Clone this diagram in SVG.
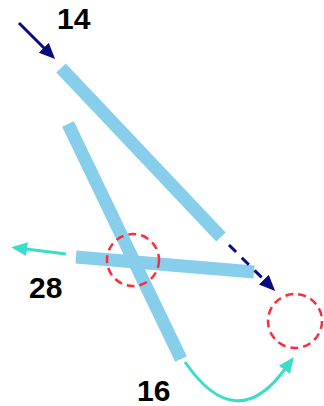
<svg xmlns="http://www.w3.org/2000/svg" width="324" height="406" viewBox="0 0 324 406">
  <style>
    .bar { stroke: #87ceeb; stroke-width: 13; fill: none; }
    .ring { fill: none; stroke: #ff2a3a; stroke-width: 2.5; stroke-dasharray: 8 5; }
    .navy { stroke: #0a0a82; stroke-width: 3; fill: none; }
    .teal { stroke: #3cdcc8; stroke-width: 3; fill: none; }
    .lbl { font-family: "Liberation Sans", Arial, sans-serif; font-weight: bold; font-size: 30px; fill: #000; }
  </style>
  <defs>
    <marker id="headNavy" viewBox="0 0 16 16" refX="1" refY="8" markerWidth="16" markerHeight="16" orient="auto" markerUnits="userSpaceOnUse">
      <path d="M0,1 L16,8 L0,15 Z" fill="#0a0a82"/>
    </marker>
    <marker id="headTeal" viewBox="0 0 16 16" refX="1" refY="8" markerWidth="16" markerHeight="16" orient="auto" markerUnits="userSpaceOnUse">
      <path d="M0,1 L16,8 L0,15 Z" fill="#3cdcc8"/>
    </marker>
  </defs>

  <g id="bar-14"><line class="bar" x1="61" y1="68" x2="221" y2="237"/></g>
  <g id="bar-16"><line class="bar" x1="68" y1="124" x2="181" y2="359"/></g>
  <g id="bar-28"><line class="bar" x1="76" y1="257" x2="254" y2="272"/></g>

  <g id="ring-a"><circle class="ring" cx="133" cy="260" r="26"/></g>
  <g id="ring-b"><circle class="ring" cx="295" cy="321" r="27"/></g>

  <g id="connectors">
    <line class="navy" x1="19" y1="23" x2="44.5" y2="48.5" marker-end="url(#headNavy)"/>
    <line class="navy" x1="229" y1="245" x2="264.5" y2="280.3" stroke-dasharray="10 8" marker-end="url(#headNavy)"/>
    <line class="teal" x1="66" y1="254" x2="26" y2="249" marker-end="url(#headTeal)"/>
    <path class="teal" d="M185,362 Q236,436 285,369" marker-end="url(#headTeal)"/>
  </g>

  <g id="labels">
    <text class="lbl" x="57" y="29">14</text>
    <text class="lbl" x="29" y="298">28</text>
    <text class="lbl" x="137" y="401">16</text>
  </g>
</svg>
